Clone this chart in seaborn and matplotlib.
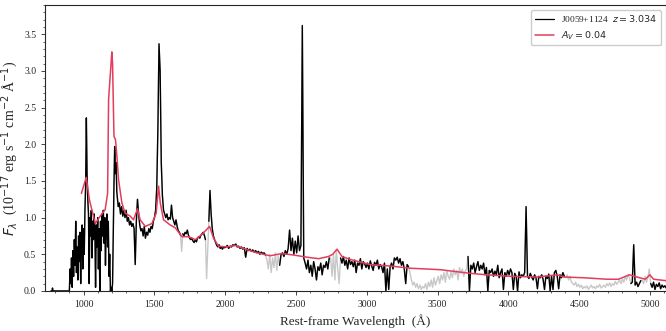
import numpy as np
import pandas as pd
import seaborn as sns
import matplotlib.pyplot as plt
from matplotlib.lines import Line2D

# ---- observed spectrum (rest frame), read off the figure ----
# far blue end, basically zero flux
wave_blue = [770, 778, 781, 784, 800, 850, 895]
flux_blue = [0.0, 0.0, 0.04, 0.0, 0.0, 0.0, 0.0]

# Ly-alpha forest + OVI + Lya, 900-1240 A, 5 A pixels
start_forest, step_forest = 900, 5
flux_forest = [0.0, 0.3, 0.1, 0.45, 0.05, 0.55, 0.2, 0.7, 0.35, 0.95,
               0.25, 0.6, 0.15, 0.75, 0.4, 0.8, 0.1, 0.65, 0.9, 0.3,
               0.85, 0.5, 1.1, 1.45, 2.36, 1.6, 1.25, 1.05, 0.1, 1.0,
               0.75, 1.1, 0.45, 0.95, 0.7, 1.05, 0.85, 0.05, 0.9, 0.6,
               1.0, 0.3, 0.85, 0.0, 0.95, 0.55, 1.05, 0.75, 1.1, 0.65,
               1.0, 0.35, 0.9, 1.05, 0.6, 0.95, 0.2, 0.5, 0.0, 0.05,
               0.0, 0.1, 0.8, 1.45, 1.97, 1.6, 1.75, 1.35, 1.25]

# SiIV, CIV, CIII] region, 1245-1997 A, 8 A pixels
start_uv, step_uv = 1245, 8
flux_uv = [1.15, 1.2, 1.05, 1.15, 1.02, 1.1, 1.0, 1.1, 0.95, 1.0,
           0.9, 0.95, 0.88, 0.92, 0.85, 0.36, 0.95, 1.25, 1.05, 0.9,
           0.82, 0.85, 0.75, 0.88, 0.72, 0.8, 0.76, 0.85, 0.8, 0.88,
           0.85, 0.95, 1.0, 1.1, 1.4, 2.2, 3.37, 3.0, 1.75, 1.3,
           1.1, 1.05, 1.0, 1.05, 0.97, 1.0, 0.98, 1.17, 1.0, 0.95,
           0.9, 0.97, 0.88, 0.82, 0.8, 0.76, 0.54, 0.78, 0.75, 0.8,
           0.78, 0.83, 0.76, 0.72, 0.7, 0.72, 0.68, 0.66, 0.7, 0.67,
           0.72, 0.74, 0.72, 0.76, 0.78, 0.8, 0.76, 0.7, 0.17, 0.55,
           0.95, 1.37, 1.05, 0.85, 0.75, 0.7, 0.66, 0.62, 0.6, 0.63,
           0.58, 0.6, 0.57, 0.6, 0.59]

# red part, 2005-5115 A, 10 A pixels
start_red, step_red = 2005, 10
flux_red = [0.6, 0.62, 0.58, 0.61, 0.6, 0.63, 0.62, 0.64, 0.6, 0.61,
            0.58, 0.6, 0.57, 0.59, 0.46, 0.58, 0.55, 0.57, 0.54, 0.56,
            0.53, 0.55, 0.52, 0.54, 0.5, 0.53, 0.51, 0.52, 0.49, 0.42,
            0.3, 0.5, 0.25, 0.45, 0.32, 0.52, 0.28, 0.48, 0.35, 0.5,
            0.52, 0.47, 0.55, 0.5, 0.58, 0.83, 0.55, 0.72, 0.5, 0.68,
            0.52, 0.75, 0.55, 0.62, 3.62, 0.45, 0.38, 0.3, 0.42, 0.25,
            0.35, 0.2, 0.4, 0.3, 0.15, 0.33, 0.28, 0.38, 0.22, 0.35,
            0.32, 0.4, 0.3, 0.45, 0.45, 0.2, 0.5, 0.15, 0.56, 0.3,
            0.1, 0.45, 0.38, 0.47, 0.35, 0.42, 0.3, 0.45, 0.36, 0.4,
            0.33, 0.42, 0.25, 0.38, 0.35, 0.44, 0.3, 0.4, 0.37, 0.32,
            0.38, 0.3, 0.41, 0.34, 0.28, 0.39, 0.35, 0.42, 0.3, 0.36,
            0.33, 0.25, 0.38, 0.0, 0.3, 0.02, 0.33, 0.38, 0.3, 0.45,
            0.42, 0.46, 0.38, 0.44, 0.35, 0.4, 0.3, 0.1, 0.36, 0.33,
            0.25, 0.15, 0.08, 0.12, 0.05, 0.1, 0.03, 0.08, 0.02, 0.06,
            0.04, 0.1, 0.02, 0.12, 0.06, 0.15, 0.05, 0.18, 0.08, 0.14,
            0.2, 0.1, 0.22, 0.15, 0.25, 0.12, 0.28, 0.2, 0.16, 0.26,
            0.18, 0.3, 0.22, 0.28, 0.15, 0.32, 0.24, 0.3, 0.2, 0.27,
            0.3, 0.47, 0.0, 0.35, 0.3, 0.38, 0.25, 0.33, 0.4, 0.28,
            0.35, 0.3, 0.38, 0.22, 0.32, 0.0, 0.28, 0.25, 0.3, 0.2,
            0.27, 0.22, 0.35, 0.18, 0.25, 0.3, 0.02, 0.25, 0.2, 0.28,
            0.22, 0.3, 0.25, 0.02, 0.24, 0.2, 0.0, 0.26, 0.18, 0.22,
            0.2, 0.25, 1.15, 0.2, 0.17, 0.24, 0.19, 0.15, 0.22, 0.18,
            0.03, 0.2, 0.18, 0.22, 0.16, 0.02, 0.2, 0.17, 0.23, 0.0,
            0.2, 0.02, 0.25, 0.28, 0.2, 0.03, 0.22, 0.18, 0.25, 0.2,
            0.18, 0.22, 0.15, 0.2, 0.12, 0.1, 0.08, 0.12, 0.06, 0.09,
            0.05, 0.08, 0.03, 0.06, 0.04, 0.07, 0.02, 0.05, 0.08, 0.04,
            0.06, 0.03, 0.07, 0.05, 0.09, 0.04, 0.06, 0.08, 0.05, 0.1,
            0.07, 0.11, 0.06, 0.1, 0.08, 0.13, 0.09, 0.12, 0.15, 0.1,
            0.16, 0.12, 0.2, 0.15, 0.22, 0.18, 0.1, 0.12, 0.63, 0.08,
            0.12, 0.06, 0.1, 0.14, 0.15, 0.1, 0.2, 0.12, 0.18, 0.3,
            0.1, 0.05, 0.12, 0.02, 0.09, 0.06, 0.11, 0.03, 0.08, 0.05,
            0.07, 0.04]

# masked (sky / telluric) pixels, drawn in grey
masked = [(1688, 1698), (1864, 1882), (2290, 2375), (2740, 2812),
          (3300, 3710), (4400, 4860), (4940, 5000)]

# ---- best-fit composite model ----
model_wave = [985, 1019, 1042, 1083, 1118, 1153, 1170, 1177, 1200, 1205,
              1215, 1226, 1236, 1247, 1271, 1294, 1330, 1353, 1381, 1400,
              1436, 1483, 1513, 1530, 1542, 1565, 1612, 1648, 1695, 1742,
              1789, 1836, 1890, 1918, 1953, 2013, 2071, 2130, 2224, 2318,
              2401, 2483, 2578, 2660, 2730, 2760, 2790, 2825, 2883, 3025,
              3166, 3307, 3519, 3731, 3849, 4013, 4202, 4343, 4390, 4531,
              4696, 4778, 4854, 4908, 4967, 4999, 5025, 5114]
model_flux = [1.33, 1.55, 1.24, 0.92, 1.02, 1.11, 1.33, 2.61, 3.26, 3.1,
              2.11, 2.06, 1.83, 1.52, 1.20, 1.06, 1.02, 0.97, 1.12, 0.97,
              0.88, 0.92, 1.06, 1.43, 1.20, 0.97, 0.90, 0.86, 0.74, 0.74,
              0.70, 0.77, 0.88, 0.72, 0.61, 0.60, 0.62, 0.58, 0.52, 0.48,
              0.51, 0.49, 0.46, 0.44, 0.47, 0.50, 0.57, 0.47, 0.43, 0.36,
              0.34, 0.31, 0.29, 0.24, 0.22, 0.20, 0.19, 0.22, 0.19, 0.18,
              0.16, 0.16, 0.22, 0.19, 0.16, 0.22, 0.16, 0.14]

obj_name = 'J0059+1124'
redshift = 3.034
a_v = 0.04

# ---- assemble ----
wave = np.concatenate([
    wave_blue,
    start_forest + step_forest * np.arange(len(flux_forest)),
    start_uv + step_uv * np.arange(len(flux_uv)),
    start_red + step_red * np.arange(len(flux_red)),
])
flux = np.concatenate([flux_blue, flux_forest, flux_uv, flux_red])
spec = pd.DataFrame({'wave': wave, 'flux': flux})
bad = np.zeros(len(spec), dtype=bool)
for lo, hi in masked:
    bad |= (spec.wave >= lo) & (spec.wave <= hi)
spec['bad'] = bad
spec['seg'] = (spec.bad != spec.bad.shift()).cumsum()
good = spec[~spec.bad]
model = pd.DataFrame({'wave': model_wave, 'flux': model_flux})

sns.set_style('ticks')
plt.rcParams['font.family'] = 'serif'
plt.rcParams['font.serif'] = ['Liberation Serif', 'DejaVu Serif']
plt.rcParams['mathtext.fontset'] = 'dejavusans'

fig = plt.figure(figsize=(6.66, 3.31), dpi=100)
ax = fig.add_axes([0.068, 0.121, 0.932, 0.864])

sns.lineplot(data=spec, x='wave', y='flux', color='#c8c8c8', lw=1.0,
             estimator=None, sort=False, ax=ax, zorder=1)
sns.lineplot(data=good, x='wave', y='flux', units='seg', color='black', lw=1.0,
             estimator=None, sort=False, ax=ax, zorder=2)
sns.lineplot(data=model, x='wave', y='flux', color='#e33d5e', lw=1.1,
             estimator=None, sort=False, ax=ax, zorder=3)

ax.set_xlim(730, 5113)
ax.set_ylim(0, 3.9)
ax.set_xticks([1000, 1500, 2000, 2500, 3000, 3500, 4000, 4500, 5000])
ax.set_yticks([0, 0.5, 1.0, 1.5, 2.0, 2.5, 3.0, 3.5])
ax.minorticks_on()
ax.tick_params(which='major', length=3, width=0.6, labelsize=7, direction='out')
ax.tick_params(which='minor', length=1.5, width=0.5, direction='out')
for s in ax.spines.values():
    s.set_linewidth(0.8)

ax.set_xlabel('Rest-frame Wavelength  (Å)', fontsize=9.5)
ax.set_ylabel(r'$F_\lambda$  (10$^{-17}$ erg s$^{-1}$ cm$^{-2}$ Å$^{-1}$)',
              fontsize=10, labelpad=3)

handles = [Line2D([], [], color='black', lw=0.9),
           Line2D([], [], color='#e33d5e', lw=1.1)]
labels = [f'{obj_name}  $z = {redshift:.3f}$', f'$A_V = {a_v:.2f}$']
ax.legend(handles, labels, loc='upper right', fontsize=6.8, frameon=True,
          framealpha=1, edgecolor='#cccccc', borderaxespad=0.5)

fig.savefig('out.png', dpi=100)
